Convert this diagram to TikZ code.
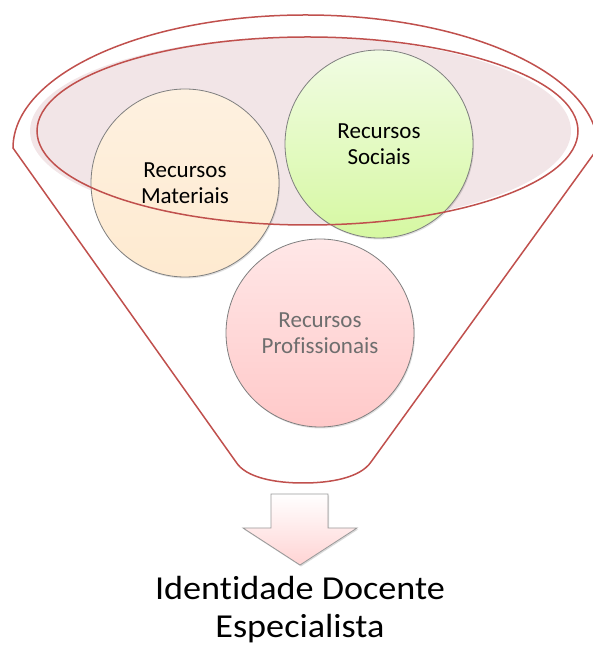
\documentclass[tikz,border=0pt]{standalone}
\usepackage{fontspec}
\setmainfont{Carlito}[Ligatures=NoCommon]
\newfontfamily\titlefont{Carlito}[Ligatures=NoCommon, FakeStretch=1.08]
\usetikzlibrary{shadows}
\definecolor{funnelred}{HTML}{C0504D}
\definecolor{rimfill}{HTML}{F2E5E7}
\definecolor{ringgray}{HTML}{7F7F7F}
\definecolor{softtext}{HTML}{6E6E6E}
\definecolor{mattop}{HTML}{FEF1E0}
\definecolor{matmid}{HTML}{FFDDB2}
\definecolor{matbot}{HTML}{FEEAD0}
\definecolor{soctop}{HTML}{F1FCE3}
\definecolor{socbot}{HTML}{D6F8A2}
\definecolor{protop}{HTML}{FFE7E7}
\definecolor{probot}{HTML}{FFC9C9}
\begin{document}
\begin{tikzpicture}
            [
                x=1pt, y=1pt,
                funnel/.style={draw=funnelred, line width=1.5pt},
                resource/.style={circle, minimum size=188pt, inner sep=0pt, draw=ringgray, line width=0.8pt,
                    align=center, font=\fontsize{23}{26.5}\selectfont,
                    drop shadow={fill=black, opacity=0.12, shadow xshift=1pt, shadow yshift=-1.5pt}},
                blockarrow/.style={draw=black!40, line width=0.8pt, top color=white, bottom color=red!17,
                    drop shadow={fill=black, opacity=0.15, shadow xshift=1pt, shadow yshift=-1.5pt}}
            ]
            \useasboundingbox (0,0) rectangle (592,648);
            % Funnel
            \draw[funnel] (13,500) arc[start angle=180, end angle=0, x radius=292.5, y radius=133]
                -- (371,186) .. controls (360,170) and (330,165) .. (303,165)
                .. controls (276,165) and (246,170) .. (236,186) -- cycle;
            % Rim
            \fill[rimfill] (300.5,517) ellipse[x radius=270.5, y radius=94];
            % Resources
            \node[resource, top color=mattop, middle color=matmid, bottom color=matbot] (materiais) at (185,465) {Recursos\\Materiais};
            \node[resource, top color=soctop, bottom color=socbot] (sociais) at (379,504) {Recursos\\Sociais};
            \node[resource, top color=protop, bottom color=probot, text=softtext] (profissionais) at (320,315) {Recursos\\Profissionais};
            \draw[funnel] (307.5,517) ellipse[x radius=270.5, y radius=94];
            % Output
            \draw[blockarrow] (271,154) -- (328,154) -- (328,120) -- (357,120) -- (300,83) -- (243,120) -- (271,120) -- cycle;
            \node[align=center, font=\titlefont\fontsize{33.5}{38}\selectfont] (identidade) at (300,38) {Identidade Docente\\Especialista};
        \end{tikzpicture}
\end{document}
